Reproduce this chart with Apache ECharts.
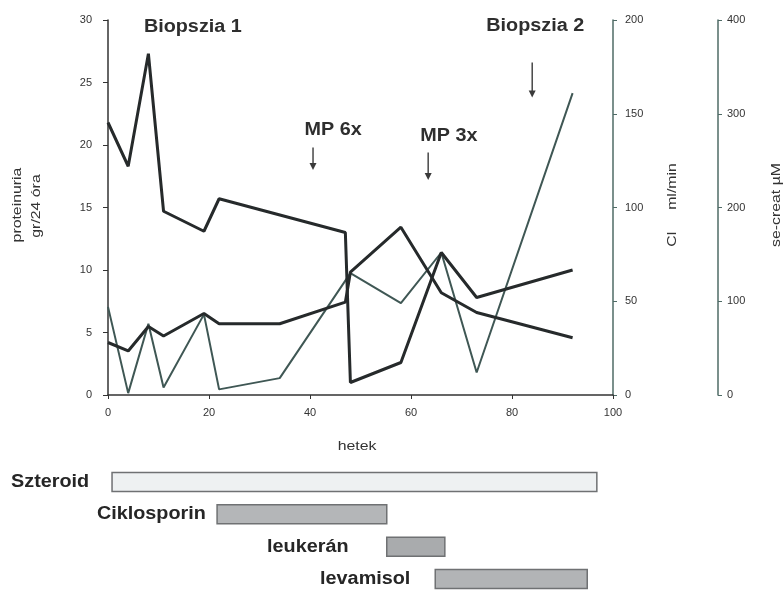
<!DOCTYPE html>
<html><head><meta charset="utf-8">
<script src="https://cdn.jsdelivr.net/npm/echarts@6/dist/echarts.min.js"></script>
<style>html,body{margin:0;padding:0;background:#fff}#c{width:784px;height:591px}</style>
</head><body><div id="c"></div>
<script>
// ---- data ----
const protWeeks  = [0, 4, 8, 11, 19, 22, 47, 48, 58, 66, 73, 92];
const protValues = [21.8, 18.3, 27.3, 14.7, 13.1, 15.7, 13.0, 1.0, 2.6, 11.4, 7.8, 10.0]; // gr/24 óra

const clWeeks  = [0, 4, 8, 11, 19, 22, 34, 48, 58, 66, 73, 92];
const clValues = [47, 1, 38, 4, 43, 3, 9, 65, 49, 76, 12, 161]; // ml/min

const crWeeks  = [0, 4, 8, 11, 19, 22, 34, 47, 48, 58, 66, 73, 92];
const crValues = [56, 47, 73, 63, 87, 76, 76, 99, 131, 179, 109, 88, 61]; // µM

const drugNames = ['Szteroid', 'Ciklosporin', 'leukerán', 'levamisol'];
const drugStart = [0.8, 21.6, 55.2, 64.8];
const drugEnd   = [96.8, 55.2, 66.7, 94.9];

const annText  = ['Biopszia 1', 'Biopszia 2', 'MP 6x', 'MP 3x'];
const annWeek  = [16.8, 84.6, 44.6, 67.5];
const annLevel = [29.4, 29.5, 21.2, 20.7];

const arrowWeek   = [40.6, 63.4, 84.0];
const arrowTop    = [19.8, 19.4, 26.6];
const arrowBottom = [18.0, 17.2, 23.8];

// ---- layout / style (not data) ----
const drugLabelStart = [-19.2, -2.2, 31.5, 42.0];
const drugFill = ['#eef1f2', '#b4b6b8', '#a9abad', '#b2b4b6'];

const pairs = (xs, ys) => xs.map((x, i) => [x, ys[i]]);
const FONT = '"Liberation Sans", Arial, sans-serif';
const tickLabel = {color: '#333', fontSize: 11, fontFamily: FONT};
const TITLE_FONT = '12px ' + FONT;

function vTitle(text, x, y) {
  return {type: 'text', x: x, y: y, rotation: Math.PI / 2, scaleX: 1.32, silent: true,
          style: {text: text, align: 'center', verticalAlign: 'middle', font: TITLE_FONT, fill: '#333'}};
}

const chart = echarts.init(document.getElementById('c'), null, {renderer: 'canvas'});
chart.setOption({
  backgroundColor: '#fff',
  animation: false,
  grid: [
    {left: 108, right: 171, top: 20, height: 375},
    {left: 108, right: 171, top: 466, height: 125}
  ],
  graphic: [
    vTitle('proteinuria', 18, 205),
    vTitle('gr/24 óra', 37, 206),
    vTitle('Cl     ml/min', 673, 205),
    vTitle('se-creat µM', 777, 205),
    {type: 'text', x: 357, y: 447, scaleX: 1.32, silent: true,
     style: {text: 'hetek', align: 'center', verticalAlign: 'middle', font: TITLE_FONT, fill: '#333'}}
  ],
  xAxis: [
    {type: 'value', gridIndex: 0, min: 0, max: 100, interval: 20,
     axisLine: {lineStyle: {color: '#333', width: 1.5}},
     axisTick: {show: true, length: 4, lineStyle: {color: '#333'}},
     axisLabel: Object.assign({margin: 12}, tickLabel),
     splitLine: {show: false}},
    {type: 'value', gridIndex: 1, min: 0, max: 100, show: false}
  ],
  yAxis: [
    {type: 'value', gridIndex: 0, position: 'left', min: 0, max: 30, interval: 5,
     axisLine: {show: true, lineStyle: {color: '#333', width: 1.5}},
     axisTick: {show: true, length: 5, lineStyle: {color: '#333'}},
     axisLabel: Object.assign({margin: 16}, tickLabel),
     splitLine: {show: false}},
    {type: 'value', gridIndex: 0, position: 'right', offset: 0, min: 0, max: 200, interval: 50,
     axisLine: {show: true, lineStyle: {color: '#4f6b66', width: 1.5}},
     axisTick: {show: true, length: 4, lineStyle: {color: '#4f6b66'}},
     axisLabel: Object.assign({margin: 12}, tickLabel),
     splitLine: {show: false}},
    {type: 'value', gridIndex: 0, position: 'right', offset: 105, min: 0, max: 400, interval: 100,
     axisLine: {show: true, lineStyle: {color: '#4f6b66', width: 1.5}},
     axisTick: {show: true, length: 4, lineStyle: {color: '#4f6b66'}},
     axisLabel: Object.assign({margin: 9}, tickLabel),
     splitLine: {show: false}},
    // row axis for the therapy bars (row index 0..3)
    {type: 'value', gridIndex: 1, min: -0.495, max: 3.37, inverse: true, show: false}
  ],
  series: [
    {type: 'line', name: 'proteinuria', xAxisIndex: 0, yAxisIndex: 0,
     data: pairs(protWeeks, protValues), symbol: 'none',
     lineStyle: {color: '#262a2b', width: 3}, z: 3},
    {type: 'line', name: 'Cl', xAxisIndex: 0, yAxisIndex: 1,
     data: pairs(clWeeks, clValues), symbol: 'none',
     lineStyle: {color: '#3f5754', width: 2}, z: 2},
    {type: 'line', name: 'se-creat', xAxisIndex: 0, yAxisIndex: 2,
     data: pairs(crWeeks, crValues), symbol: 'none',
     lineStyle: {color: '#262a2b', width: 3}, z: 3},
    {type: 'custom', name: 'annotations', xAxisIndex: 0, yAxisIndex: 0, clip: false, silent: true,
     data: annWeek.map((w, i) => [w, annLevel[i], i]),
     renderItem: function (params, api) {
       const p = api.coord([api.value(0), api.value(1)]);
       return {type: 'text', x: p[0], y: p[1], scaleX: 1.1,
               style: {text: annText[api.value(2)], align: 'center', verticalAlign: 'middle',
                       font: 'bold 18px ' + FONT, fill: '#2e2e2e'}};
     }},
    {type: 'custom', name: 'arrows', xAxisIndex: 0, yAxisIndex: 0, clip: false, silent: true,
     data: arrowWeek.map((w, i) => [w, arrowTop[i], arrowBottom[i]]),
     renderItem: function (params, api) {
       const a = api.coord([api.value(0), api.value(1)]);
       const b = api.coord([api.value(0), api.value(2)]);
       const hw = 3.5, hh = 7;
       return {type: 'group', children: [
         {type: 'line', shape: {x1: a[0], y1: a[1], x2: b[0], y2: b[1] - hh + 1},
          style: {stroke: '#3a3a3a', lineWidth: 1.4}},
         {type: 'polygon', shape: {points: [[b[0] - hw, b[1] - hh], [b[0] + hw, b[1] - hh], [b[0], b[1]]]},
          style: {fill: '#3a3a3a'}}
       ]};
     }},
    {type: 'custom', name: 'drugs', xAxisIndex: 1, yAxisIndex: 3, clip: false,
     data: drugNames.map((n, i) => [i, drugStart[i], drugEnd[i]]),
     renderItem: function (params, api) {
       const idx = api.value(0);
       const s = api.coord([api.value(1), idx]);
       const e = api.coord([api.value(2), idx]);
       const lab = api.coord([drugLabelStart[idx], idx]);
       const h = 19;
       return {type: 'group', children: [
         {type: 'rect', shape: {x: s[0], y: s[1] - h / 2, width: e[0] - s[0], height: h},
          style: {fill: drugFill[idx], stroke: '#6f7173', lineWidth: 1.5}},
         {type: 'text', x: lab[0], y: s[1], scaleX: 1.1,
          style: {text: drugNames[idx], x: 0, y: 0, align: 'left',
          verticalAlign: 'middle', fill: '#262626', font: 'bold 18px ' + FONT}}
       ]};
     }}
  ]
});
</script></body></html>
